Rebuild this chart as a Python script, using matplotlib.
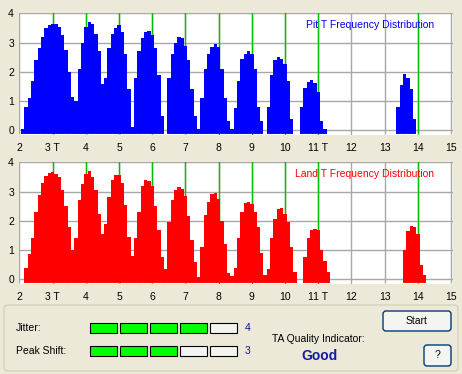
import numpy as np
import matplotlib.pyplot as plt
from matplotlib.patches import FancyBboxPatch, Rectangle

plt.rcParams['font.family'] = ['Liberation Sans', 'DejaVu Sans']

# histogram bins, 0.1 T wide, first bin centred at 2.1 T
bin_width = 0.1
hist_start = 2.1

pit_counts = [
    0.05, 0.8, 1.1, 1.7, 2.4, 2.8, 3.2, 3.5, 3.62, 3.65,      # 2.1 - 3.0
    3.65, 3.55, 3.25, 2.75, 2.0, 1.15, 1.0, 2.1, 3.0, 3.55,   # 3.1 - 4.0
    3.7, 3.65, 3.3, 2.7, 1.6, 1.8, 2.8, 3.3, 3.5, 3.6,        # 4.1 - 5.0
    3.35, 2.6, 1.4, 0.1, 1.8, 2.7, 3.15, 3.38, 3.4, 3.25,     # 5.1 - 6.0
    2.8, 1.9, 0.5, 0.0, 1.8, 2.6, 3.0, 3.2, 3.15, 2.9,        # 6.1 - 7.0
    2.4, 1.4, 0.5, 0.05, 1.1, 2.1, 2.6, 2.85, 2.95, 2.85,     # 7.1 - 8.0
    2.1, 1.1, 0.3, 0.05, 0.75, 1.7, 2.45, 2.62, 2.7, 2.6,     # 8.1 - 9.0
    2.1, 0.8, 0.3, 0.0, 0.8, 1.9, 2.4, 2.5, 2.45, 2.28,       # 9.1 - 10.0
    1.7, 0.4, 0.0, 0.0, 0.8, 1.45, 1.64, 1.72, 1.62, 1.3,     # 10.1 - 11.0
    0.3, 0.05, 0, 0, 0, 0, 0, 0, 0, 0,                        # 11.1 - 12.0
    0, 0, 0, 0, 0, 0, 0, 0, 0, 0,                             # 12.1 - 13.0
    0, 0, 0, 0.8, 1.55, 1.92, 1.8, 1.4, 0.4, 0.0,             # 13.1 - 14.0
]

land_counts = [
    0.0, 0.4, 0.85, 1.4, 2.3, 2.9, 3.3, 3.55, 3.65, 3.68,     # 2.1 - 3.0
    3.62, 3.5, 3.05, 2.5, 1.8, 1.0, 1.4, 2.7, 3.25, 3.62,     # 3.1 - 4.0
    3.72, 3.5, 3.05, 2.25, 1.55, 1.9, 2.8, 3.4, 3.58, 3.57,   # 4.1 - 5.0
    3.3, 2.55, 1.45, 0.8, 1.4, 2.3, 3.2, 3.4, 3.38, 3.2,      # 5.1 - 6.0
    2.5, 1.7, 0.75, 0.35, 1.97, 2.7, 3.05, 3.15, 3.1, 2.85,   # 6.1 - 7.0
    2.15, 1.35, 0.6, 0.07, 1.1, 2.2, 2.65, 2.92, 2.96, 2.75,  # 7.1 - 8.0
    2.0, 1.2, 0.2, 0.1, 0.4, 1.4, 2.3, 2.6, 2.64, 2.58,       # 8.1 - 9.0
    2.3, 1.8, 0.9, 0.15, 0.35, 1.4, 2.05, 2.42, 2.45, 2.25,   # 9.1 - 10.0
    1.95, 1.1, 0.23, 0.0, 0.0, 0.75, 1.4, 1.68, 1.72, 1.7,    # 10.1 - 11.0
    1.0, 0.63, 0.25, 0, 0, 0, 0, 0, 0, 0,                     # 11.1 - 12.0
    0, 0, 0, 0, 0, 0, 0, 0, 0, 0,                             # 12.1 - 13.0
    0, 0, 0, 0, 0, 1.0, 1.65, 1.82, 1.8, 1.55,                # 13.1 - 14.0
    0.5, 0.15,                                                # 14.1 - 14.2
]

x_ticks = list(range(2, 16))
x_tick_labels = ['2', '3 T', '4', '5', '6', '7', '8', '9', '10', '11 T',
                 '12', '13', '14', '15']
y_ticks = [0, 1, 2, 3, 4]
t_markers = [3, 4, 5, 6, 7, 8, 9, 10, 11, 14]

jitter_level = 4
peak_shift_level = 3
meter_steps = 5
quality_text = 'Good'

bg = '#ECE9D8'
grid_gray = '#A8A8A8'
green = '#00C000'

fig = plt.figure(figsize=(4.62, 3.74), dpi=100, facecolor=bg)


def draw_hist(ax, counts, color, title):
    h = np.array(counts, dtype=float)
    edges = hist_start - bin_width / 2 + bin_width * np.arange(len(h) + 1)
    base = -0.13
    # one filled staircase per run of non-zero bins (avoids seams)
    nz = np.flatnonzero(h > 0)
    runs = np.split(nz, np.flatnonzero(np.diff(nz) > 1) + 1)
    for r in runs:
        ax.stairs(h[r[0]:r[-1] + 1], edges[r[0]:r[-1] + 2], baseline=base,
                  fill=True, color=color, lw=0, zorder=3)
    # ragged bottom edge of the bars
    ax.axhline(-0.115, color='white', lw=1.0, dashes=(0.72, 1.44), zorder=4)
    for t in t_markers:
        ax.axvline(t, color=green, lw=1.0, zorder=2)
    ax.set_xlim(2, 15.05)
    ax.set_ylim(-0.165, 4.015)
    ax.set_xticks(x_ticks)
    ax.set_xticklabels(x_tick_labels)
    ax.set_yticks(y_ticks)
    ax.grid(True, color=grid_gray, lw=1.0, zorder=1)
    ax.set_axisbelow(True)
    for s in ax.spines.values():
        s.set_visible(False)
    ax.tick_params(length=0, labelsize=7.5, colors='black')
    ax.tick_params(axis='x', pad=6)
    ax.tick_params(axis='y', pad=4)
    ax.text(0.957, 0.9, title, color=color, fontsize=7.5, ha='right',
            va='center', transform=ax.transAxes, zorder=5)


ax_pit = fig.add_axes([0.0422, 0.6390, 0.9377, 0.3262], facecolor='white')
draw_hist(ax_pit, pit_counts, '#0000FF', 'Pit T Frequency Distribution')

ax_land = fig.add_axes([0.0422, 0.2406, 0.9377, 0.3262], facecolor='white')
draw_hist(ax_land, land_counts, '#FF0000', 'Land T Frequency Distribution')

# control panel drawn in pixel coordinates
ui = fig.add_axes([0, 0, 1, 1])
ui.set_xlim(0, 462)
ui.set_ylim(374, 0)
ui.axis('off')

ui.add_patch(FancyBboxPatch((4, 305), 454, 66,
                            boxstyle='round,pad=0,rounding_size=4',
                            fc='none', ec='#D0CEBF', lw=0.9))

meters = [('Jitter:', jitter_level, 328), ('Peak Shift:', peak_shift_level, 351)]
for label, level, yc in meters:
    ui.text(16, yc, label, fontsize=7.5, ha='left', va='center')
    for i in range(meter_steps):
        fc = '#00FF00' if i < level else '#F4F4F0'
        ui.add_patch(Rectangle((89.5 + 30 * i, yc - 4.6), 27.2, 9.2,
                               fc=fc, ec='black', lw=0.8))
    ui.text(247.5, yc, str(level), fontsize=7.5, color='#1010A0',
            ha='center', va='center')

ui.text(272, 339, 'TA Quality Indicator:', fontsize=7.5, ha='left', va='center')
ui.text(320, 356.5, quality_text, fontsize=10, fontweight='bold',
        color='#10209A', ha='center', va='center')

buttons = [('Start', 383, 311, 68, 20), ('?', 424, 345, 27, 21)]
for txt, bx, by, bw, bh in buttons:
    ui.add_patch(FancyBboxPatch((bx, by), bw, bh,
                                boxstyle='round,pad=0,rounding_size=3',
                                fc='#F4F4F0', ec='#003C74', lw=1.0))
    ui.text(bx + bw / 2, by + bh / 2, txt, fontsize=7.5, ha='center',
            va='center')

fig.savefig('out.png', dpi=100, facecolor=bg)
